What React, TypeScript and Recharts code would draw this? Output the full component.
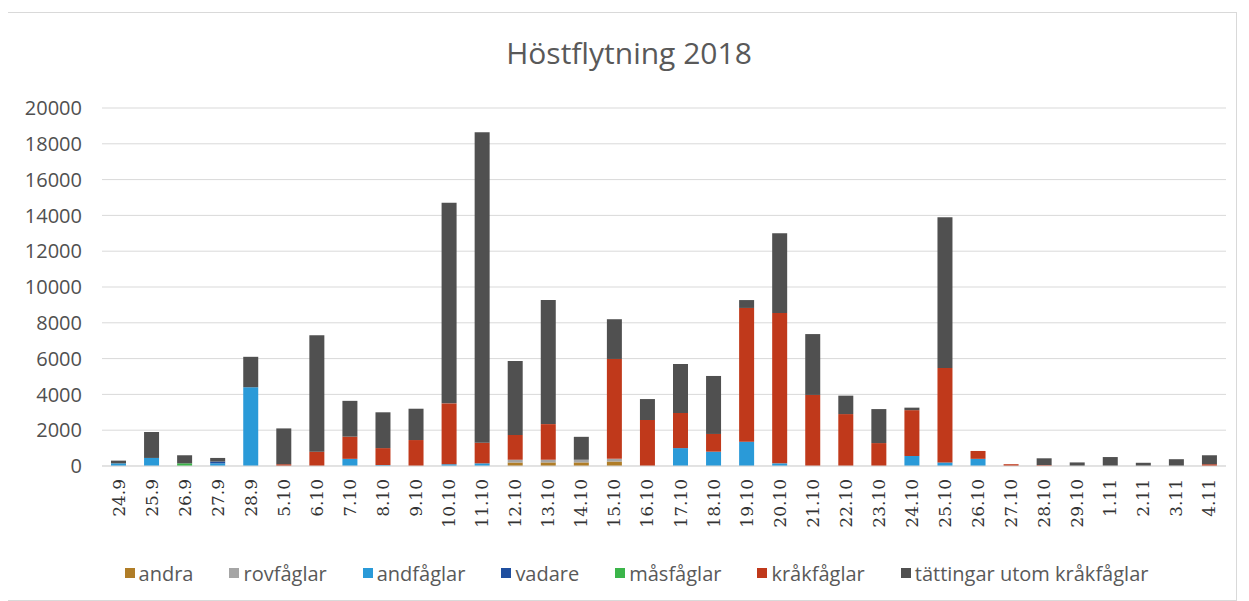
import React from 'react';
import { BarChart, Bar, XAxis, YAxis, CartesianGrid, Legend } from 'recharts';

const dates = [
  '24.9', '25.9', '26.9', '27.9', '28.9', '5.10', '6.10', '7.10', '8.10', '9.10',
  '10.10', '11.10', '12.10', '13.10', '14.10', '15.10', '16.10', '17.10', '18.10', '19.10',
  '20.10', '21.10', '22.10', '23.10', '24.10', '25.10', '26.10', '27.10', '28.10', '29.10',
  '1.11', '2.11', '3.11', '4.11',
];

const andra = [0, 0, 0, 0, 0, 0, 0, 0, 0, 0, 0, 0, 200, 200, 200, 250, 0, 0, 0, 0, 0, 0, 0, 0, 0, 0, 0, 0, 0, 0, 0, 0, 0, 0];
const rovfaglar = [0, 0, 0, 0, 0, 0, 0, 0, 0, 0, 0, 0, 150, 150, 150, 150, 0, 0, 0, 0, 0, 0, 0, 0, 0, 0, 0, 0, 0, 0, 0, 0, 0, 0];
const andfaglar = [150, 450, 0, 150, 4400, 0, 0, 400, 50, 0, 100, 150, 0, 0, 0, 0, 0, 1000, 800, 1360, 150, 0, 0, 0, 560, 200, 400, 0, 0, 0, 0, 0, 0, 0];
const vadare = [0, 0, 0, 100, 0, 0, 0, 0, 0, 0, 0, 0, 0, 0, 0, 0, 0, 0, 0, 0, 0, 0, 0, 0, 0, 0, 0, 0, 0, 0, 0, 0, 0, 0];
const masfaglar = [0, 0, 150, 0, 0, 0, 0, 0, 0, 0, 0, 0, 0, 0, 0, 0, 0, 0, 0, 0, 0, 0, 0, 0, 0, 0, 0, 0, 0, 0, 0, 0, 0, 0];
const krakfaglar = [0, 0, 0, 0, 0, 100, 800, 1240, 950, 1450, 3400, 1150, 1380, 1990, 0, 5580, 2570, 1960, 990, 7470, 8400, 3970, 2900, 1280, 2560, 5270, 440, 100, 50, 0, 0, 0, 0, 100];
const tattingar = [150, 1450, 450, 200, 1700, 2000, 6500, 2000, 2000, 1750, 11200, 17350, 4140, 6930, 1280, 2220, 1170, 2740, 3240, 440, 4450, 3400, 1030, 1900, 140, 8430, 0, 0, 380, 200, 500, 180, 380, 500];

const yTicks = [0, 2000, 4000, 6000, 8000, 10000, 12000, 14000, 16000, 18000, 20000];

const series = [
  { key: 'andra', name: 'andra', color: '#b07d27', values: andra },
  { key: 'rovfaglar', name: 'rovfåglar', color: '#a5a5a5', values: rovfaglar },
  { key: 'andfaglar', name: 'andfåglar', color: '#2a9ad8', values: andfaglar },
  { key: 'vadare', name: 'vadare', color: '#1f4f9f', values: vadare },
  { key: 'masfaglar', name: 'måsfåglar', color: '#3bb54a', values: masfaglar },
  { key: 'krakfaglar', name: 'kråkfåglar', color: '#c0391b', values: krakfaglar },
  { key: 'tattingar', name: 'tättingar utom kråkfåglar', color: '#505050', values: tattingar },
];

const data = dates.map((d, i) => {
  const row: Record<string, string | number> = { date: d };
  series.forEach((s) => {
    row[s.key] = s.values[i];
  });
  return row;
});

const DateTick = (props: any) => {
  const { x, y, payload } = props;
  const ty = y + 13;
  return (
    <text
      x={x}
      y={ty}
      transform={`rotate(-90 ${x} ${ty})`}
      textAnchor="end"
      dominantBaseline="central"
      fontFamily="DejaVu Serif"
      fontSize={17}
      fill="#333333"
    >
      {payload.value}
    </text>
  );
};

const LegendContent = () => (
  <div
    style={{
      display: 'flex',
      justifyContent: 'center',
      alignItems: 'center',
      height: 24,
      paddingLeft: 66,
      fontFamily: 'Open Sans',
      fontSize: 20,
      color: '#595959',
    }}
  >
    {series.map((s) => (
      <div key={s.key} style={{ display: 'flex', alignItems: 'center', marginRight: 36 }}>
        <span style={{ width: 10, height: 10, background: s.color, marginRight: 4, display: 'inline-block' }} />
        <span>{s.name}</span>
      </div>
    ))}
  </div>
);

export default function App() {
  return (
    <div
      style={{
        position: 'relative',
        width: 1229,
        height: 587,
        border: '1px solid #d9d9d9',
        marginLeft: -2,
        marginTop: 4,
        background: '#fff',
      }}
    >
      <div
        style={{
          position: 'absolute',
          top: 25,
          left: 0,
          width: 1229,
          paddingLeft: 15,
          boxSizing: 'border-box',
          textAlign: 'center',
          fontFamily: 'Open Sans',
          fontSize: 30,
          lineHeight: 1,
          color: '#595959',
        }}
      >
        Höstflytning 2018
      </div>
      <BarChart
        width={1229}
        height={587}
        data={data}
        margin={{ top: 95, right: 10, bottom: 15, left: 0 }}
        barSize={15}
      >
        <CartesianGrid vertical={false} stroke="#d9d9d9" />
        <XAxis
          dataKey="date"
          interval={0}
          height={95}
          tickLine={false}
          tickSize={0}
          tickMargin={0}
          stroke="#d9d9d9"
          tick={<DateTick />}
        />
        <YAxis
          width={95}
          domain={[0, 20000]}
          ticks={yTicks}
          interval={0}
          axisLine={false}
          tickLine={false}
          tickSize={0}
          tickMargin={20}
          tick={{ fill: '#505050', fontSize: 20, fontFamily: 'Open Sans' }}
        />
        <Legend
          verticalAlign="bottom"
          content={<LegendContent />}
          wrapperStyle={{ left: 0, width: 1229 }}
        />
        {series.map((s) => (
          <Bar
            key={s.key}
            dataKey={s.key}
            name={s.name}
            stackId="a"
            fill={s.color}
            isAnimationActive={false}
          />
        ))}
      </BarChart>
    </div>
  );
}
